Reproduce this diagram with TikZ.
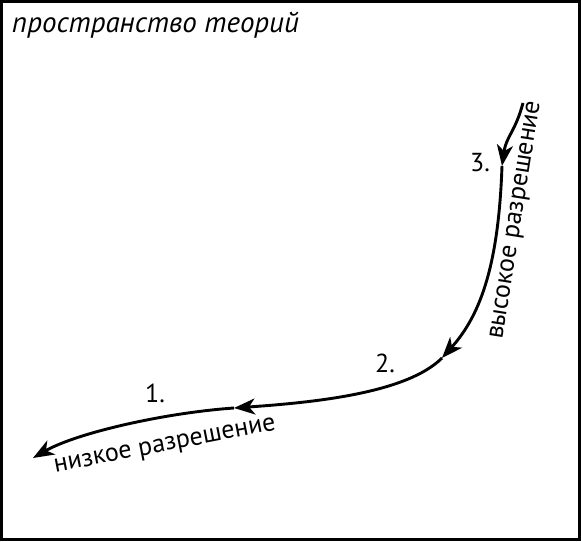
\documentclass[tikz,border=0pt]{standalone}
\usepackage{fontspec}
\setmainfont{PT Sans}
\usetikzlibrary{arrows.meta}

\begin{document}
\begin{tikzpicture}[x=1pt,y=1pt,
  flow/.style={line width=2.9pt,-{Stealth[length=21pt,width=16pt,inset=6pt]}},
  lbl/.style={inner sep=0pt,font=\fontsize{26}{30}\selectfont}]
\useasboundingbox (0,0) rectangle (581,541);
\draw[line width=3pt] (1.5,1.5) rectangle (579.5,539.5);

\path (523,438) coordinate(start) (502,375) coordinate(high) (442,183) coordinate(mid) (234,133) coordinate(low) (33,83) coordinate(tail);

\path (12,508) node[lbl,anchor=base west,font=\itshape\fontsize{29}{32}\selectfont](space){пространство теорий};
\path (470,369) node[lbl,anchor=base west](three){3.} (375,168) node[lbl,anchor=base west](two){2.} (145,138) node[lbl,anchor=base west](one){1.};
\path (521,320) node[lbl,anchor=base,rotate=81](highres){высокое разрешение};
\path (166,90) node[lbl,anchor=base,rotate=11](lowres){низкое разрешение};

\draw[flow] (start) .. controls +(255:30) and +(82:30) .. (high);
\draw[flow] (high) .. controls +(268:95) and +(48:60) .. (mid);
\draw[flow] (mid) .. controls +(225:50) and +(4:80) .. (low);
\draw[flow] (low) .. controls +(184:70) and +(30:50) .. (tail);
\end{tikzpicture}
\end{document}
